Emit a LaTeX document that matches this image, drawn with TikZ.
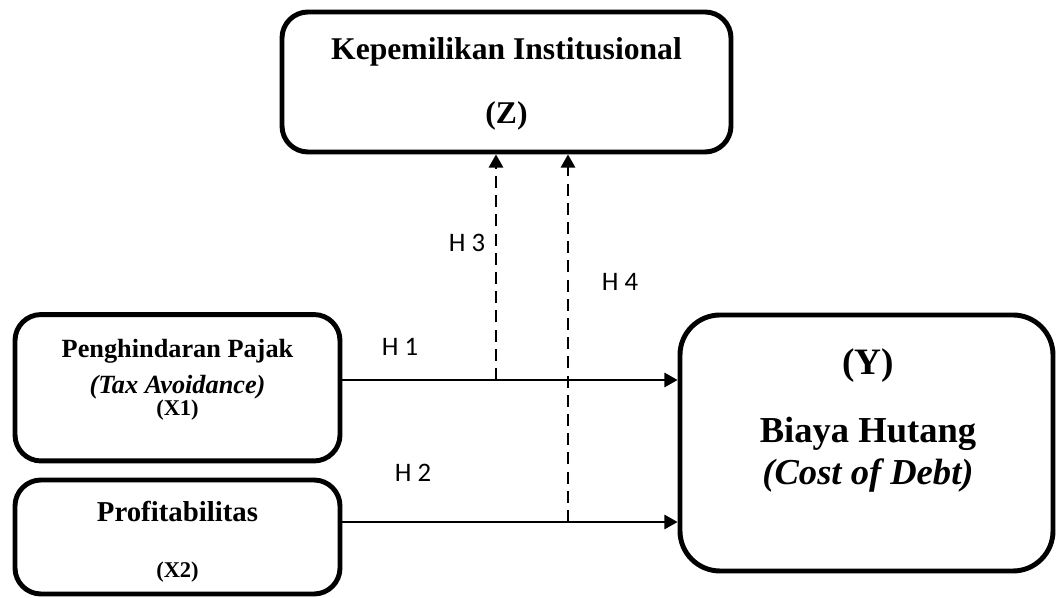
\documentclass[tikz,border=0pt]{standalone}
\usepackage{fontspec}
\setmainfont{Liberation Serif}
\newfontfamily\calibri{Carlito}
\usetikzlibrary{arrows.meta,calc}

\begin{document}
\begin{tikzpicture}[>={Triangle[length=0.33cm,width=0.36cm]},
    kotak/.style={draw, line width=3.5pt, rounded corners=0.65cm, inner sep=0pt},
    teks/.style={anchor=base, inner sep=0pt, font=\bfseries},
    hipo/.style={font=\calibri\fontsize{19}{22}\selectfont},
    garis/.style={line width=1.4pt}]
    \useasboundingbox (0, 0) rectangle (26.4, 14.95);

    % 四个变量框
    \node[kotak, minimum width=11.225cm, minimum height=3.5cm] (z) at (12.6625, 12.9) {};
    \node[kotak, minimum width=8.125cm, minimum height=3.66cm] (x1) at (4.4375, 5.256) {};
    \node[kotak, minimum width=8.125cm, minimum height=2.85cm] (x2) at (4.4375, 1.525) {};
    \node[kotak, rounded corners=1cm, minimum width=9.325cm, minimum height=6.4cm] (y) at (21.6625, 3.875) {};

    % 框内文字
    \node[teks, font=\bfseries\fontsize{22.5}{26}\selectfont] (zt1) at (12.6625, 13.45) {Kepemilikan Institusional};
    \node[teks, font=\bfseries\fontsize{22.5}{26}\selectfont] (zt2) at (12.6625, 11.85) {(Z)};
    \node[teks, font=\bfseries\fontsize{18.7}{22}\selectfont] (x1t1) at (4.4375, 6.0) {Penghindaran Pajak};
    \node[teks, font=\bfseries\fontsize{18.7}{22}\selectfont] (x1t2) at (4.4375, 5.1) {\itshape(Tax Avoidance)};
    \node[teks, font=\bfseries\fontsize{16}{19}\selectfont] (x1t3) at (4.4375, 4.55) {(X1)};
    \node[teks, font=\bfseries\fontsize{20.5}{24}\selectfont] (x2t1) at (4.4375, 1.91) {Profitabilitas};
    \node[teks, font=\bfseries\fontsize{16}{19}\selectfont] (x2t2) at (4.4375, 0.5) {(X2)};
    \node[teks, font=\bfseries\fontsize{26.5}{30}\selectfont] (yt1) at (21.7, 5.575) {(Y)};
    \node[teks, font=\bfseries\fontsize{26}{30}\selectfont] (yt2) at (21.7, 3.875) {Biaya Hutang};
    \node[teks, font=\bfseries\fontsize{26}{30}\selectfont] (yt3) at (21.7, 2.825) {\itshape(Cost of Debt)};

    % 直接效应 H1, H2
    \draw[garis, ->] ([yshift=0.194cm]x1.east) -- ([yshift=0.194cm]x1.east -| y.west);
    \draw[garis, ->] ([yshift=0.375cm]x2.east) -- ([yshift=0.375cm]x2.east -| y.west);

    % 调节效应 H3, H4（虚线）
    \coordinate (m1) at (12.4, 5.45);
    \coordinate (m2) at (14.2, 1.9);
    \draw[garis, dash pattern=on 0.3cm off 0.18cm, ->] (m1) -- (m1 |- z.south);
    \draw[garis, dash pattern=on 0.3cm off 0.18cm, ->] (m2) -- (m2 |- z.south);

    % 假设标签
    \node[hipo] (h1) at (10.0, 6.275) {H 1};
    \node[hipo] (h2) at (10.325, 3.125) {H 2};
    \node[hipo] (h3) at (11.675, 8.875) {H 3};
    \node[hipo] (h4) at (15.5, 7.9) {H 4};
\end{tikzpicture}
\end{document}
